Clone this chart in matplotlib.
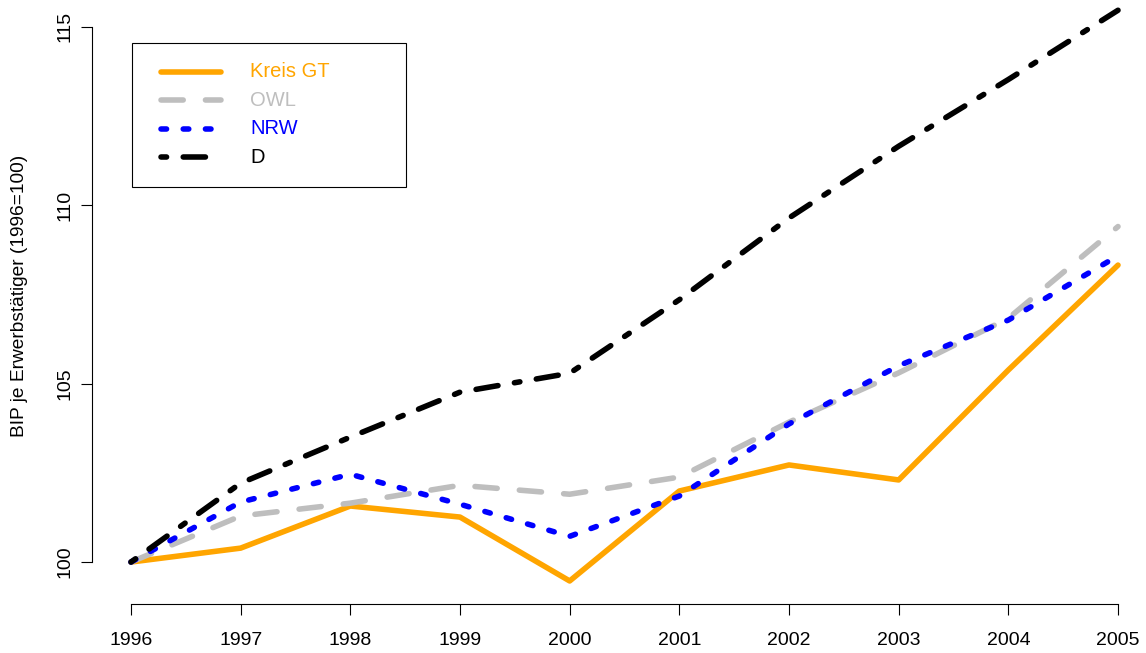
import matplotlib
matplotlib.use("Agg")
import matplotlib.pyplot as plt
from matplotlib.lines import Line2D
from matplotlib.patches import Rectangle

plt.rcParams['font.family'] = ['Liberation Sans', 'DejaVu Sans']

# data (index, 1996 = 100)
years = [1996, 1997, 1998, 1999, 2000, 2001, 2002, 2003, 2004, 2005]
kreis_gt = [100, 100.39, 101.57, 101.26, 99.47, 101.99, 102.72, 102.30, 105.38, 108.32]
owl = [100, 101.29, 101.65, 102.15, 101.90, 102.38, 103.92, 105.30, 106.83, 109.40]
nrw = [100, 101.68, 102.46, 101.62, 100.72, 101.85, 103.87, 105.50, 106.78, 108.58]
d = [100, 102.21, 103.50, 104.76, 105.29, 107.35, 109.64, 111.65, 113.52, 115.46]

series_names = ['Kreis GT', 'OWL', 'NRW', 'D']
series_values = [kreis_gt, owl, nrw, d]
colors = ['#FFA500', '#BEBEBE', '#0000FF', '#000000']
styles = ['-', (0, (4, 4)), (0, (1, 3)), (0, (1, 3, 4, 3))]
y_ticks = [100, 105, 110, 115]

W, H = 1146, 653
LW = 4.0

fig = plt.figure(figsize=(W / 100, H / 100), dpi=100)
# plot region like R (extends a little past the picture top/right)
ax = fig.add_axes([91.5 / W, (H - 603.8) / H, 1066 / W, 616.4 / H])

for vals, col, ls in zip(series_values, colors, styles):
    ax.plot(years, vals, color=col, linestyle=ls, lw=LW,
            dash_capstyle='round', solid_capstyle='round',
            solid_joinstyle='round', dash_joinstyle='round')

ax.set_xlim(1995.64, 2005.36)
ax.set_ylim(98.83, 116.10)

# R-style axes
for s in ['top', 'right']:
    ax.spines[s].set_visible(False)
ax.spines['left'].set_bounds(100, 115)
ax.spines['bottom'].set_bounds(1996, 2005)
for s in ['left', 'bottom']:
    ax.spines[s].set_linewidth(0.8)

ax.set_xticks(years)
ax.set_yticks(y_ticks)
ax.tick_params(axis='both', direction='out', length=8, width=0.8, labelsize=14)
ax.tick_params(axis='x', pad=12.5)
ax.tick_params(axis='y', pad=4.8, labelrotation=90)
for lab in ax.get_yticklabels():
    lab.set_va('center')

fig.text(20 / W, (H - 296) / H, 'BIP je Erwerbstätiger (1996=100)',
         rotation=90, ha='center', va='center', fontsize=13.8)

# legend drawn like R's legend box
def fx(px):
    return px / W

def fy(py):
    return (H - py) / H

fig.add_artist(Rectangle((fx(132), fy(186.5)), fx(406) - fx(132), fy(43) - fy(186.5),
                         transform=fig.transFigure, fill=False, lw=0.8, ec='black'))
rows = [71.5, 100.3, 128.6, 157.2]
for name, col, ls, ry in zip(series_names, colors, styles, rows):
    fig.add_artist(Line2D([fx(161), fx(221)], [fy(ry), fy(ry)], transform=fig.transFigure,
                          color=col, linestyle=ls, lw=LW,
                          dash_capstyle='round', solid_capstyle='round'))
    fig.text(fx(250), fy(ry), name, color=col, fontsize=14.5, ha='left', va='center')

fig.savefig('out.png', dpi=100)
